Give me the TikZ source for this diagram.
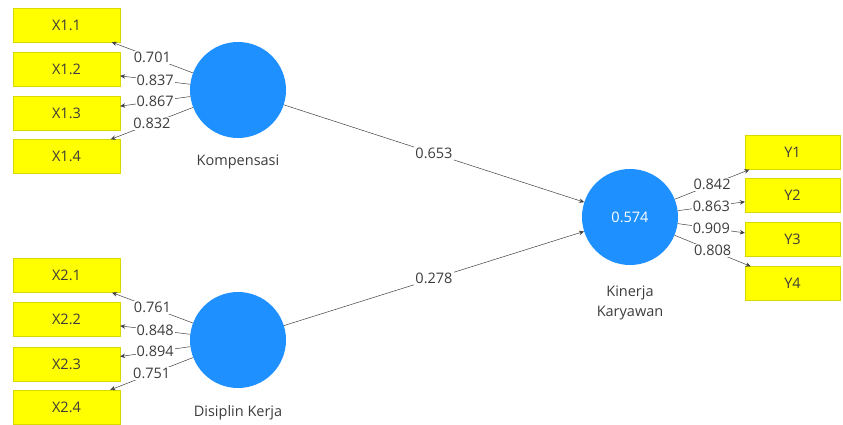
\documentclass[tikz,border=0pt]{standalone}
\usepackage{fontspec}
\setmainfont{Open Sans}
\usetikzlibrary{arrows.meta}
\definecolor{lvblue}{RGB}{30,144,255}
\definecolor{mvyellow}{RGB}{255,255,0}
\definecolor{txtgray}{RGB}{60,60,60}
\tikzset{
  lv/.style={circle,fill=lvblue,draw=none,minimum size=96pt,inner sep=0pt,text=white},
  mvx/.style={rectangle,fill=mvyellow,draw=mvyellow!85!black,line width=0.3pt,minimum width=107pt,minimum height=34pt,inner sep=0pt,text=txtgray},
  mvy/.style={mvx,minimum width=95pt},
  ld/.style={draw=black!75,line width=0.5pt,-{Stealth[length=5pt,width=4.5pt]}},
  wt/.style={fill=white,inner sep=1pt,text=txtgray},
  lbl/.style={text=txtgray,align=center}
}

\begin{document}
\begin{tikzpicture}[x=1pt,y=-1pt,font=\fontsize{14.5}{20}\selectfont]
\useasboundingbox (0,0) rectangle (843,425);
% latent variables
\node[lv] (kom) at (238,90) {};
\node[lv] (dis) at (238,340) {};
\node[lv] (kin) at (630,217) {0.574};
\node[lbl] (komlbl) at (238,162) {Kompensasi};
\node[lbl] (dislbl) at (238,413) {Disiplin Kerja};
\node[lbl] (kinlbl) at (630,303) {Kinerja\\Karyawan};
% indicators
\node[mvx] (x11) at (66.5,25) {X1.1};
\node[mvx] (x12) at (66.5,69.5) {X1.2};
\node[mvx] (x13) at (66.5,113.5) {X1.3};
\node[mvx] (x14) at (66.5,156.5) {X1.4};
\node[mvx] (x21) at (66.5,275.5) {X2.1};
\node[mvx] (x22) at (66.5,319.5) {X2.2};
\node[mvx] (x23) at (66.5,364) {X2.3};
\node[mvx] (x24) at (66.5,407) {X2.4};
\node[mvy] (y1) at (792.5,152.5) {Y1};
\node[mvy] (y2) at (792.5,195.5) {Y2};
\node[mvy] (y3) at (792.5,239.5) {Y3};
\node[mvy] (y4) at (792.5,283.5) {Y4};
% outer loadings
\draw[ld] (kom) -- node[wt] {0.701} (x11);
\draw[ld] (kom) -- node[wt] {0.837} (x12);
\draw[ld] (kom) -- node[wt] {0.867} (x13);
\draw[ld] (kom) -- node[wt] {0.832} (x14);
\draw[ld] (dis) -- node[wt] {0.761} (x21);
\draw[ld] (dis) -- node[wt] {0.848} (x22);
\draw[ld] (dis) -- node[wt] {0.894} (x23);
\draw[ld] (dis) -- node[wt] {0.751} (x24);
\draw[ld] (kin) -- node[wt] {0.842} (y1);
\draw[ld] (kin) -- node[wt] {0.863} (y2);
\draw[ld] (kin) -- node[wt] {0.909} (y3);
\draw[ld] (kin) -- node[wt] {0.808} (y4);
% path coefficients
\draw[ld] (kom) -- node[wt] {0.653} (kin);
\draw[ld] (dis) -- node[wt] {0.278} (kin);
\end{tikzpicture}
\end{document}
